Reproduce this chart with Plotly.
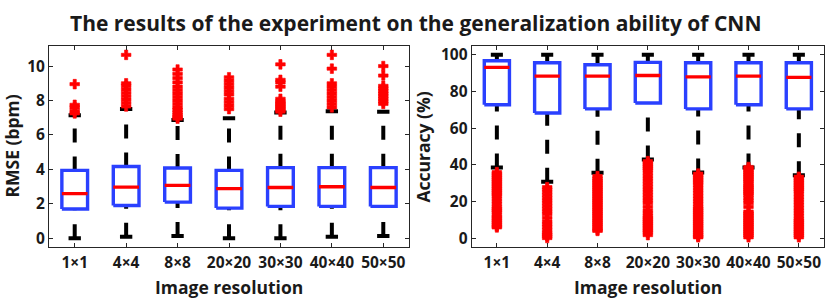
import plotly.graph_objects as go

categories = ["1×1", "4×4", "8×8", "20×20", "30×30", "40×40", "50×50"]

# RMSE panel (bpm)
rmse_lower = [0.0, 0.08, 0.13, 0.0, 0.0, 0.08, 0.13]
rmse_q1 = [1.70, 1.90, 2.10, 1.75, 1.85, 1.85, 1.85]
rmse_median = [2.59, 2.97, 3.07, 2.88, 2.95, 2.99, 2.95]
rmse_q3 = [3.94, 4.17, 4.08, 3.94, 4.10, 4.10, 4.10]
rmse_upper = [7.14, 7.50, 6.86, 6.97, 7.31, 7.37, 7.35]
rmse_outliers = [
    [7.25, 7.4, 7.6, 7.75, 8.95],
    [7.65, 7.85, 8.05, 8.25, 8.45, 8.65, 8.85, 9.0, 10.65],
    [6.95, 7.05, 7.15, 7.3, 7.45, 7.6, 7.8, 8.0, 8.2, 8.4, 8.6, 8.8, 9.05, 9.3, 9.55, 9.8],
    [7.5, 7.7, 7.9, 8.1, 8.35, 8.55, 8.75, 8.95, 9.15, 9.35],
    [7.35, 7.45, 7.55, 7.65, 7.75, 7.85, 7.95, 8.1, 8.8, 9.05, 9.2, 10.1],
    [7.6, 7.8, 8.0, 8.2, 8.4, 8.6, 8.8, 9.0, 9.85, 10.65],
    [7.8, 7.95, 8.1, 8.25, 8.4, 8.55, 8.7, 8.85, 9.45, 10.0],
]

# Accuracy panel (%)
acc_lower = [38.5, 30.8, 35.6, 42.9, 35.8, 38.5, 34.3]
acc_q1 = [72.8, 68.3, 70.5, 73.7, 70.5, 72.8, 70.5]
acc_median = [93.2, 88.4, 88.4, 88.7, 88.0, 88.4, 87.7]
acc_q3 = [96.8, 95.7, 94.6, 95.9, 95.7, 95.7, 95.7]
acc_upper = [100.0, 100.0, 100.0, 100.0, 100.0, 100.0, 100.0]
acc_outliers = [
    [36.0, 35.0, 34.0, 33.0, 32.0, 31.0, 30.0, 29.0, 28.0, 27.0, 26.0, 25.0, 24.0, 23.0,
     21.5, 20.0, 18.5, 17.0, 16.0, 15.0, 14.0, 12.5, 11.5, 10.5, 9.5, 8.5, 7.5, 6.5, 5.8],
    [27.8, 26.5, 25.0, 23.5, 22.0, 20.5, 19.0, 17.5, 16.0, 14.5, 13.0, 11.0, 9.0, 7.5,
     6.0, 4.5, 3.0, 2.0, 1.0, 0.0],
    [33.8, 32.5, 31.5, 30.5, 29.5, 28.5, 27.5, 26.5, 25.5, 24.5, 23.5, 22.5, 21.5, 20.5,
     19.5, 18.5, 17.5, 16.5, 15.5, 14.5, 13.5, 12.5, 11.5, 10.5, 9.5, 8.5, 7.5, 6.5, 5.5,
     4.5, 3.9],
    [42.0, 41.0, 40.0, 39.0, 38.0, 37.0, 35.5, 34.0, 32.5, 31.0, 29.5, 28.0, 26.5, 25.0,
     23.5, 22.0, 20.5, 19.0, 17.0, 15.0, 13.5, 12.0, 11.0, 10.0, 9.0, 8.0, 7.0, 6.0, 5.0,
     4.0, 3.0, 1.6],
    [35.2, 34.2, 33.2, 32.2, 31.2, 30.2, 29.0, 27.5, 26.0, 24.5, 23.0, 21.5, 20.0, 18.5,
     17.0, 16.0, 15.0, 14.0, 13.0, 12.0, 11.0, 10.0, 9.0, 8.0, 7.0, 6.0, 5.0, 4.0, 3.0,
     2.0, 1.0, 0.4],
    [38.8, 37.8, 36.8, 35.8, 34.8, 33.8, 32.8, 31.8, 30.8, 29.5, 28.5, 27.5, 26.5, 25.5,
     24.5, 23.5, 22.0, 20.5, 19.0, 17.0, 14.5, 13.5, 12.5, 11.5, 10.5, 9.5, 8.5, 7.5, 6.5,
     5.5, 4.5, 3.5, 2.5, 1.5, 0.4],
    [33.5, 32.5, 31.5, 30.5, 29.5, 28.5, 27.5, 26.5, 25.5, 24.0, 22.5, 21.0, 19.5, 18.0,
     16.5, 15.0, 13.5, 12.0, 10.5, 9.5, 8.5, 7.5, 6.5, 5.5, 4.5, 3.5, 2.5, 1.5, 0.4],
]

W, H = 830, 299
BOX_HALF = 0.25
CAP_HALF = 0.12
BLUE = "#2a40ff"
RED = "#ff0000"
AXC = "#262626"
FONT = "Open Sans"
TXT = "#1a1a1a"

fig = go.Figure()


def add_panel(xa, ya, lower, q1, med, q3, upper, outliers):
    xs = list(range(1, len(categories) + 1))
    # whiskers (drawn from low to high value, dashed)
    for i, x in enumerate(xs):
        for y0, y1 in ((lower[i], q1[i]), (q3[i], upper[i])):
            fig.add_trace(go.Scatter(
                x=[x, x], y=[y0, y1], mode="lines", xaxis=xa, yaxis=ya,
                line=dict(color="black", width=4, dash="14px,14px"),
                hoverinfo="skip", showlegend=False))
    # caps
    cx, cy = [], []
    for i, x in enumerate(xs):
        for v in (lower[i], upper[i]):
            cx += [x - CAP_HALF, x + CAP_HALF, None]
            cy += [v, v, None]
    fig.add_trace(go.Scatter(x=cx, y=cy, mode="lines", xaxis=xa, yaxis=ya,
                             line=dict(color="black", width=4),
                             hoverinfo="skip", showlegend=False))
    # boxes
    bx, by = [], []
    for i, x in enumerate(xs):
        bx += [x - BOX_HALF, x + BOX_HALF, x + BOX_HALF, x - BOX_HALF, x - BOX_HALF, None]
        by += [q1[i], q1[i], q3[i], q3[i], q1[i], None]
    fig.add_trace(go.Scatter(x=bx, y=by, mode="lines", xaxis=xa, yaxis=ya,
                             line=dict(color=BLUE, width=3.4),
                             hoverinfo="skip", showlegend=False))
    # medians
    mx, my = [], []
    for i, x in enumerate(xs):
        mx += [x - BOX_HALF, x + BOX_HALF, None]
        my += [med[i], med[i], None]
    fig.add_trace(go.Scatter(x=mx, y=my, mode="lines", xaxis=xa, yaxis=ya,
                             line=dict(color=RED, width=3.4),
                             hoverinfo="skip", showlegend=False))
    # outliers
    ox, oy = [], []
    for i, x in enumerate(xs):
        ox += [x] * len(outliers[i])
        oy += outliers[i]
    fig.add_trace(go.Scatter(x=ox, y=oy, mode="markers", xaxis=xa, yaxis=ya,
                             marker=dict(symbol="cross", size=8, color=RED,
                                         line=dict(width=0.6, color=RED)),
                             hoverinfo="skip", showlegend=False))


add_panel("x", "y", rmse_lower, rmse_q1, rmse_median, rmse_q3, rmse_upper, rmse_outliers)
add_panel("x2", "y2", acc_lower, acc_q1, acc_median, acc_q3, acc_upper, acc_outliers)

tickfont = dict(family=FONT, size=15.5, color=TXT, weight="bold")
common_x = dict(
    tickmode="array", tickvals=list(range(1, 8)), ticktext=categories,
    range=[0.5, 7.5], showline=True, mirror="ticks", linecolor=AXC, linewidth=1,
    ticks="inside", ticklen=4, tickcolor=AXC, showgrid=False, zeroline=False,
    tickfont=tickfont, fixedrange=True, ticklabelstandoff=2)
common_y = dict(
    showline=True, mirror="ticks", linecolor=AXC, linewidth=1,
    ticks="inside", ticklen=4, tickcolor=AXC, showgrid=False, zeroline=False,
    tickfont=tickfont, fixedrange=True)

y_dom = [1 - 248 / H, 1 - 44 / H]
fig.update_layout(
    width=W, height=H,
    margin=dict(l=0, r=0, t=0, b=0),
    paper_bgcolor="white", plot_bgcolor="white",
    xaxis=dict(domain=[49 / W, 409 / W], anchor="y", **common_x),
    yaxis=dict(domain=y_dom, anchor="x", range=[-0.5, 11.15],
               tickvals=[0, 2, 4, 6, 8, 10], **common_y),
    xaxis2=dict(domain=[471.7 / W, 824 / W], anchor="y2", **common_x),
    yaxis2=dict(domain=y_dom, anchor="x2", range=[-4.8, 104.7],
                tickvals=[0, 20, 40, 60, 80, 100], **common_y),
    showlegend=False,
)

labfont = dict(family=FONT, size=17.5, color=TXT, weight="bold")
ann = [
    dict(text="The results of the experiment on the generalization ability of CNN",
         x=415 / W, y=1 - 20 / H, font=dict(family=FONT, size=21, color=TXT, weight="bold")),
    dict(text="Image resolution", x=229 / W, y=1 - 289 / H, font=labfont),
    dict(text="Image resolution", x=648 / W, y=1 - 289 / H, font=labfont),
    dict(text="RMSE (bpm)", x=12 / W, y=1 - 146 / H, textangle=-90, font=labfont),
    dict(text="Accuracy (%)", x=423 / W, y=1 - 146 / H, textangle=-90, font=labfont),
]
for a in ann:
    a.update(xref="paper", yref="paper", showarrow=False, xanchor="center", yanchor="middle")
fig.update_layout(annotations=ann)

fig.write_html("out.html", config={"displayModeBar": False},
               post_script="document.body.style.margin='0';document.body.style.overflow='hidden';")
